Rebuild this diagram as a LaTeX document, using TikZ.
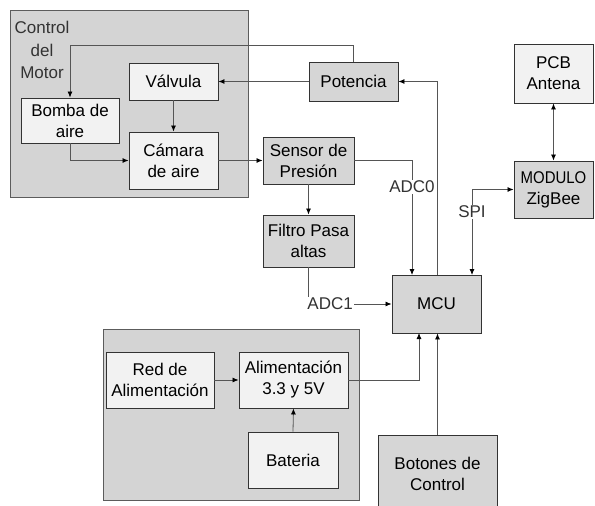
\documentclass[tikz,border=0pt]{standalone}
\usepackage{fontspec}
\setmainfont{Liberation Sans}
\usetikzlibrary{arrows.meta}
\definecolor{fondo}{HTML}{D4D4D4}
\definecolor{oscuro}{HTML}{D6D6D6}
\definecolor{claro}{HTML}{F2F2F2}
\definecolor{borde}{HTML}{333333}
\definecolor{linea}{HTML}{555555}
\begin{document}
\begin{tikzpicture}[
  x=1pt, y=-1pt,
  font=\fontsize{17}{21}\selectfont,
  blk/.style={rectangle, draw=borde, line width=0.9pt, fill=oscuro, align=center,
              inner sep=2pt},
  blkclaro/.style={blk, fill=claro},
  grupo/.style={draw=borde!80, line width=0.9pt, fill=fondo},
  flujo/.style={-{Latex[length=6pt,width=5pt,color=black]}, line width=0.8pt, draw=linea},
  flujodoble/.style={flujo, {Latex[length=6pt,width=5pt,color=black]}-{Latex[length=6pt,width=5pt,color=black]}},
  etq/.style={fill=white, inner sep=1pt, text=borde}
]
\useasboundingbox (0,0) rectangle (595,506);
% grupos de fondo
\draw[grupo] (10,10) rectangle (248,197);
\draw[grupo] (103,329) rectangle (359,500);
\node[align=center, text=borde, font=\fontsize{17}{22.5}\selectfont] (tmotor) at (42,50) {Control\\del\\Motor};
% bloques
\node[blkclaro, minimum width=89, minimum height=37] (valvula)  at (173.5,81.5)  {Válvula};
\node[blkclaro, minimum width=98, minimum height=45] (bomba)    at (70,120.5)    {Bomba de\\aire};
\node[blkclaro, minimum width=89, minimum height=57] (camara)   at (173.5,160.5) {Cámara\\de aire};
\node[blk,      minimum width=89, minimum height=39] (potencia) at (353.5,81.5)  {Potencia};
\node[blk,      minimum width=91, minimum height=47] (sensor)   at (308.5,160.5) {Sensor de\\Presión};
\node[blk,      minimum width=91, minimum height=52] (filtro)   at (308.5,241)   {Filtro Pasa\\altas};
\node[blkclaro, minimum width=79, minimum height=59] (pcb)      at (553.5,73.5)  {PCB\\Antena};
\node[blk,      minimum width=79, minimum height=57] (zigbee)   at (553.5,189.5) {\scalebox{0.88}[1]{MODULO}\\ZigBee};
\node[blk,      minimum width=89, minimum height=58] (mcu)      at (436.5,304)   {MCU};
\node[blkclaro, minimum width=108, minimum height=56] (red)     at (160,380)     {Red de\\Alimentación};
\node[blkclaro, minimum width=109, minimum height=56] (alim)    at (293.5,380)   {Alimentación\\3.3 y 5V};
\node[blkclaro, minimum width=90, minimum height=56] (bateria)  at (293,460)     {Bateria};
\node[blk,      minimum width=119, minimum height=77] (botones) at (437.5,473.5) {Botones de\\Control};
% puntos de conexion
\coordinate (retorno) at (70,45);
\coordinate (mcuA) at (412,275);
\coordinate (mcuB) at (437,275);
\coordinate (mcuC) at (472,275);
\coordinate (mcuD) at (419,333);
% conexiones
\draw[flujo] (potencia.north) |- (retorno) -- (bomba.north);
\draw[flujo] (potencia.west) -- (valvula.east);
\draw[flujo] (valvula.south) -- (camara.north);
\draw[flujo] (bomba.south) |- (camara.west);
\draw[flujo] (camara.east) -- (sensor.west);
\draw[flujo] (sensor.south) -- (filtro.north);
\draw[flujo] (sensor.east) -| node[etq, pos=0.615]{ADC0} (mcuA);
\draw[flujo] (mcuB) |- (potencia.east);
\draw[flujo] (filtro.south) |- node[etq, pos=0.63]{ADC1} (mcu.west);
\draw[flujodoble] (mcuC) |- node[etq, pos=0.37]{SPI} (zigbee.west);
\draw[flujodoble] (pcb.south) -- (zigbee.north);
\draw[flujo] (red.east) -- (alim.west);
\draw[flujo] (bateria.north) -- (alim.south);
\draw[flujo] (alim.east) -| (mcuD);
\draw[flujo] (botones.north) -- (botones.north |- mcu.south);
\end{tikzpicture}
\end{document}
